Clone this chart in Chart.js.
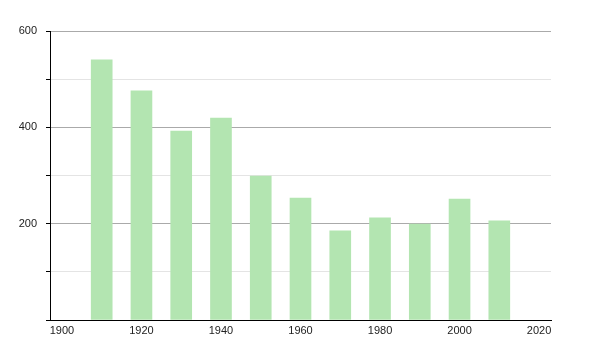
<!DOCTYPE html>
<html>
<head>
<meta charset="utf-8">
<script src="https://cdn.jsdelivr.net/npm/chart.js@4"></script>
<style>
  html, body { margin: 0; padding: 0; background: #fff; }
</style>
</head>
<body>
<canvas id="chart" width="600" height="350"></canvas>
<script>
// census years and population
const years = [1910, 1920, 1930, 1940, 1950, 1960, 1970, 1980, 1990, 2000, 2010]
const population = [540, 476, 392, 419, 299, 253, 185, 212, 199, 251, 206]
const xTicks = [1900, 1920, 1940, 1960, 1980, 2000, 2020]

const points = years.map((y, i) => ({ x: y, y: population[i] }))

new Chart(document.getElementById("chart"), {
  type: "bar",
  data: {
    datasets: [{
      data: points,
      backgroundColor: "#b3e5b1",
      borderWidth: 0,
      barThickness: 21
    }]
  },
  options: {
    responsive: false,
    animation: false,
    devicePixelRatio: 1,
    layout: { padding: { left: 0, right: 49, top: 31, bottom: 0 } },
    plugins: { legend: { display: false }, tooltip: { enabled: false } },
    scales: {
      x: {
        type: "linear",
        offset: false,
        min: 1897,
        max: 2023,
        afterBuildTicks: (scale) => { scale.ticks = xTicks.map(v => ({ value: v })) },
        afterFit: (scale) => { scale.height = 30 },
        grid: { display: false, offset: false, drawTicks: false },
        border: { display: true, color: "#000", width: 1 },
        ticks: {
          color: "#222",
          font: { family: "Liberation Sans", size: 11 },
          padding: 4,
          maxRotation: 0,
          autoSkip: false,
          callback: (v) => String(v)
        }
      },
      y: {
        min: 0,
        max: 600,
        afterFit: (scale) => { scale.width = 50 },
        grid: {
          color: (ctx) => (ctx.tick && ctx.tick.value % 200 === 0) ? "#aaaaaa" : "#e4e4e4",
          tickColor: "#000",
          tickLength: 4,
          drawTicks: true
        },
        border: { display: true, color: "#000", width: 1 },
        ticks: {
          stepSize: 100,
          color: "#222",
          font: { family: "Liberation Sans", size: 11 },
          padding: 9,
          callback: (v) => (v !== 0 && v % 200 === 0) ? String(v) : ""
        }
      }
    }
  }
})
</script>
</body>
</html>
